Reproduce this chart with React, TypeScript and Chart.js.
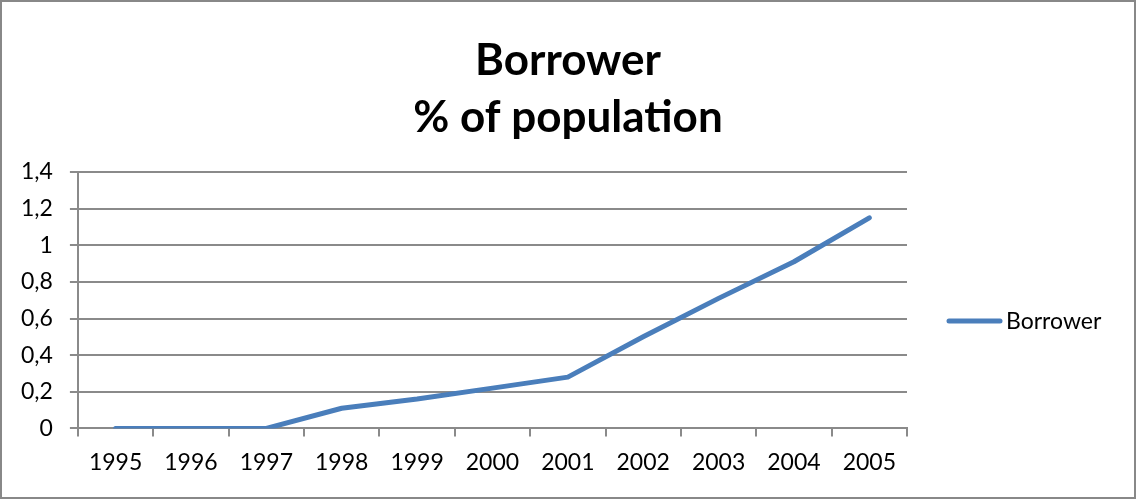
import React, { useEffect, useRef } from "react";
import { Chart, registerables } from "chart.js";

Chart.register(...registerables);

const categories = ["1995", "1996", "1997", "1998", "1999", "2000", "2001", "2002", "2003", "2004", "2005"];
const borrowerValues = [0, 0, 0, 0.11, 0.16, 0.22, 0.28, 0.5, 0.71, 0.91, 1.15];
const titleLines = ["Borrower", "% of population"];
const seriesName = "Borrower";

const FONT = "Lato, 'Open Sans', sans-serif";
const GRID = "#8A8A8A";
const LINE = "#4A7EBB";

const borderPlugin = {
  id: "outerBorder",
  beforeDraw(chart: any) {
    const { ctx, width, height } = chart;
    ctx.save();
    ctx.fillStyle = "#ffffff";
    ctx.fillRect(0, 0, width, height);
    ctx.strokeStyle = "#888888";
    ctx.lineWidth = 2;
    ctx.strokeRect(1, 1, width - 2, height - 2);
    ctx.restore();
  },
};

const titlePlugin = {
  id: "customTitle",
  afterDraw(chart: any) {
    const { ctx, width } = chart;
    ctx.save();
    ctx.fillStyle = "#000000";
    ctx.font = `bold 44px ${FONT}`;
    ctx.textAlign = "center";
    ctx.textBaseline = "alphabetic";
    ctx.fillText(titleLines[0], width / 2, 75);
    ctx.fillText(titleLines[1], width / 2, 132);
    ctx.restore();
  },
};

const legendPlugin = {
  id: "customLegend",
  afterDraw(chart: any) {
    const { ctx, chartArea } = chart;
    const ds = chart.data.datasets[0];
    const x0 = chartArea.right + 40;
    const y = chartArea.top + 149;
    ctx.save();
    ctx.strokeStyle = ds.borderColor;
    ctx.lineWidth = 5;
    ctx.lineCap = "round";
    ctx.beginPath();
    ctx.moveTo(x0 + 2, y);
    ctx.lineTo(x0 + 53, y);
    ctx.stroke();
    ctx.fillStyle = "#000000";
    ctx.font = `23px ${FONT}`;
    ctx.textBaseline = "middle";
    ctx.textAlign = "left";
    ctx.fillText(ds.label, x0 + 59, y + 1);
    ctx.restore();
  },
};

export default function App() {
  const ref = useRef<HTMLCanvasElement | null>(null);
  useEffect(() => {
    document.body.style.margin = "0";
    const canvas = ref.current!;
    const chart = new Chart(canvas, {
      type: "line",
      data: {
        labels: categories,
        datasets: [
          {
            label: seriesName,
            data: borrowerValues,
            borderColor: LINE,
            backgroundColor: LINE,
            borderWidth: 5,
            pointRadius: 0,
            pointHoverRadius: 0,
            tension: 0,
            borderCapStyle: "round",
            borderJoinStyle: "round",
          },
        ],
      },
      options: {
        animation: false,
        responsive: false,
        maintainAspectRatio: false,
        events: [],
        layout: { padding: { left: 4, right: 229, top: 172, bottom: 11 } },
        plugins: {
          legend: { display: false },
          tooltip: { enabled: false },
          title: { display: false },
        },
        scales: {
          x: {
            type: "category",
            offset: true,
            grid: {
              display: true,
              offset: true,
              drawOnChartArea: false,
              drawTicks: true,
              tickLength: 8,
              color: GRID,
              lineWidth: 2,
            },
            border: { display: true, color: GRID, width: 2 },
            ticks: {
              color: "#000000",
              font: { family: FONT, size: 23 },
              padding: 12,
              maxRotation: 0,
              autoSkip: false,
            },
          },
          y: {
            min: 0,
            max: 1.4,
            grid: {
              display: true,
              drawTicks: true,
              tickLength: 8,
              color: GRID,
              lineWidth: 2,
            },
            border: { display: true, color: GRID, width: 2 },
            ticks: {
              stepSize: 0.2,
              color: "#000000",
              font: { family: FONT, size: 23 },
              padding: 17,
              callback: (v: any) => String(Number(Number(v).toFixed(1))).replace(".", ","),
            },
          },
        },
      },
      plugins: [borderPlugin, titlePlugin, legendPlugin],
    });
    return () => chart.destroy();
  }, []);
  return (
    <div style={{ width: 1136, height: 499 }}>
      <canvas ref={ref} width={1136} height={499} style={{ display: "block", width: 1136, height: 499 }} />
    </div>
  );
}
